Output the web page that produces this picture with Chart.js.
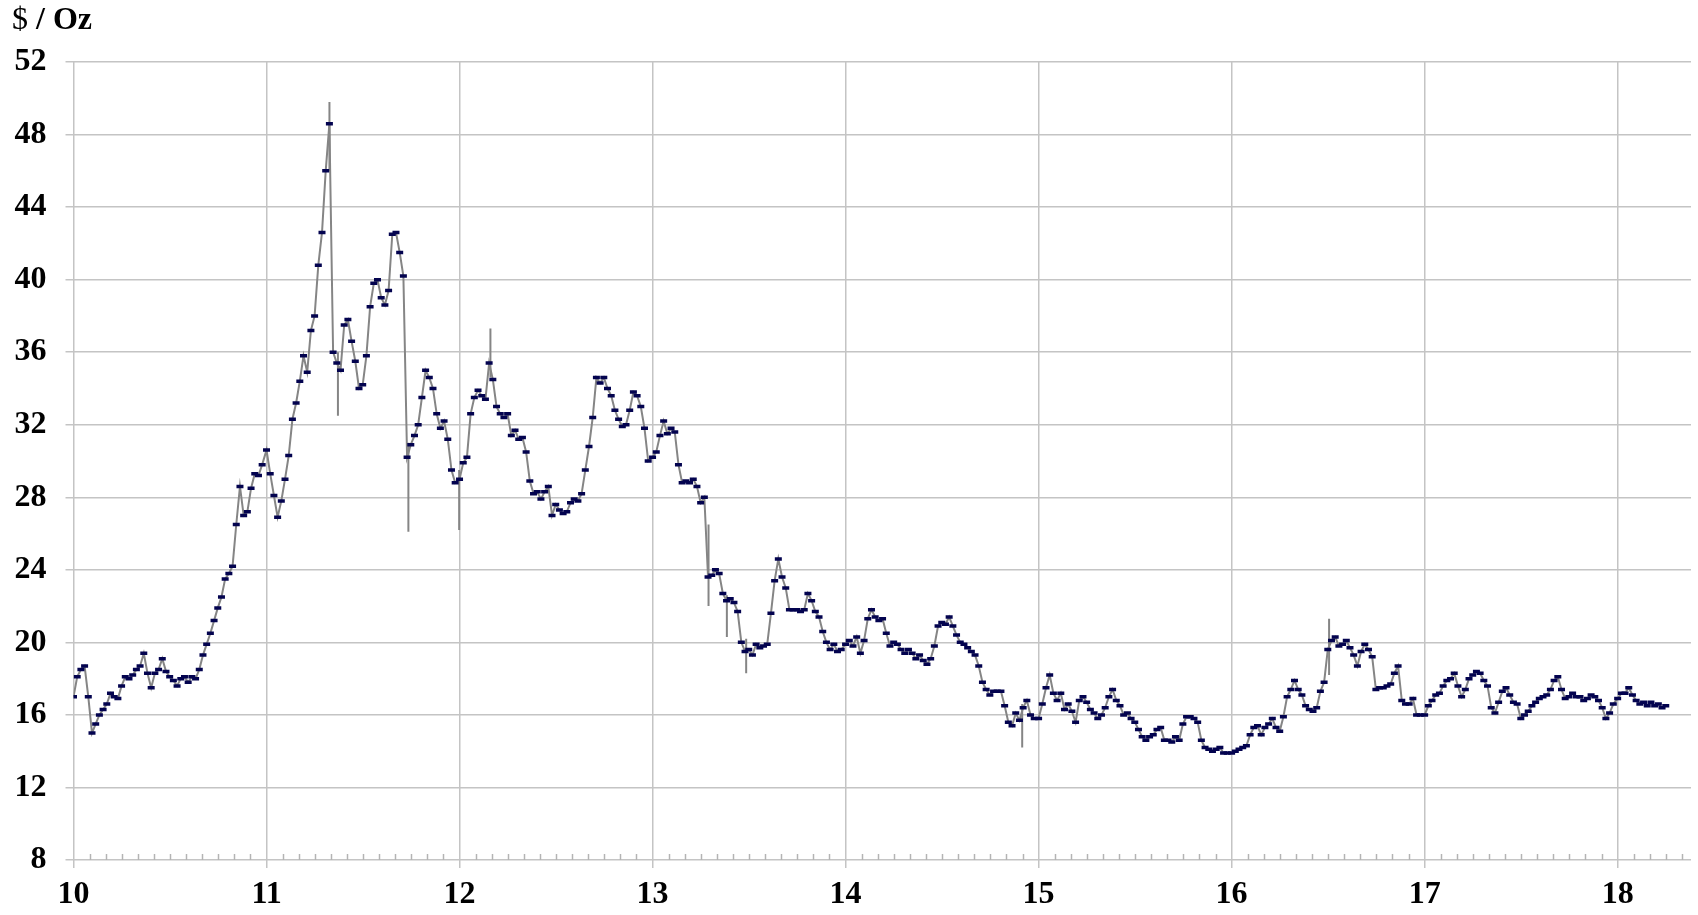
<!DOCTYPE html>
<html>
<head>
<meta charset="utf-8">
<title>Silver</title>
<script src="https://cdn.jsdelivr.net/npm/chart.js@4.4.1/dist/chart.umd.min.js"></script>
<style>
html, body { margin: 0; padding: 0; background: #fff; }
canvas { display: block; }
</style>
</head>
<body>
<canvas id="myChart" width="1698" height="915"></canvas>
<script>
// weekly closes, $ / oz, one array per year (year axis is 10 = 2010 ...)
var silver2010 = [17.0, 18.1, 18.5, 18.7, 17.0,
    15.0, 15.5, 16.0, 16.3,
    16.6, 17.2, 17.0, 16.9,
    17.6, 18.1, 18.0, 18.2, 18.5,
    18.7, 19.4, 18.3, 17.5,
    18.3, 18.5, 19.1, 18.4,
    18.1, 17.9, 17.6, 18.0, 18.1,
    17.8, 18.1, 18.0, 18.5,
    19.3, 19.9, 20.5, 21.2,
    21.9, 22.5, 23.5, 23.8, 24.2,
    26.5, 28.6, 27.0, 27.2,
    28.5, 29.3, 29.2, 29.8];
var silver2011 = [30.6, 29.3, 28.1, 26.9, 27.8,
    29.0, 30.3, 32.3, 33.2,
    34.4, 35.8, 34.9, 37.2,
    38.0, 40.8, 42.6, 46.0, 48.6,
    36.0, 35.4, 35.0, 37.5,
    37.8, 36.6, 35.5, 34.0,
    34.2, 35.8, 38.5, 39.8, 40.0,
    39.0, 38.6, 39.4, 42.5,
    42.6, 41.5, 40.2, 30.2,
    30.9, 31.4, 32.0, 33.5, 35.0,
    34.6, 34.0, 32.6, 31.8,
    32.2, 31.2, 29.5, 28.8];
var silver2012 = [29.0, 29.9, 30.2, 32.6, 33.5,
    33.9, 33.6, 33.4, 35.4,
    34.5, 33.0, 32.6, 32.4,
    32.6, 31.4, 31.7, 31.2, 31.3,
    30.5, 28.9, 28.2, 28.3,
    27.9, 28.3, 28.6, 27.0,
    27.6, 27.3, 27.1, 27.2, 27.7,
    27.9, 27.8, 28.2, 29.5,
    30.8, 32.4, 34.6, 34.3,
    34.6, 34.0, 33.6, 32.8, 32.3,
    31.9, 32.0, 32.8, 33.8,
    33.6, 33.0, 31.8, 30.0];
var silver2013 = [30.2, 30.5, 31.4, 32.2, 31.5,
    31.8, 31.6, 29.8, 28.8,
    28.9, 28.8, 29.0, 28.6,
    27.7, 28.0, 23.6, 23.7, 24.0,
    23.8, 22.7, 22.3, 22.4,
    22.2, 21.7, 20.0, 19.5,
    19.6, 19.3, 19.9, 19.7, 19.8,
    19.9, 21.6, 23.4, 24.6,
    23.6, 23.0, 21.8, 21.8,
    21.8, 21.7, 21.8, 22.7, 22.3,
    21.7, 21.4, 20.6, 20.0,
    19.6, 19.9, 19.5, 19.6];
var silver2014 = [19.9, 20.1, 19.8, 20.3, 19.4,
    20.1, 21.3, 21.8, 21.4,
    21.2, 21.3, 20.5, 19.8,
    20.0, 19.9, 19.6, 19.4, 19.6,
    19.4, 19.1, 19.3, 19.0,
    18.8, 19.1, 19.8, 20.9,
    21.1, 21.0, 21.4, 20.9, 20.4,
    20.0, 19.9, 19.7, 19.5,
    19.3, 18.7, 17.8, 17.4,
    17.1, 17.3, 17.3, 17.3, 16.5,
    15.6, 15.4, 16.1, 15.7,
    16.4, 16.8, 16.0, 15.8];
var silver2015 = [15.8, 16.6, 17.5, 18.2, 17.2,
    16.8, 17.2, 16.3, 16.6,
    16.2, 15.6, 16.8, 17.0,
    16.7, 16.3, 16.1, 15.8, 16.0,
    16.4, 17.0, 17.4, 16.8,
    16.5, 16.0, 16.1, 15.8,
    15.6, 15.2, 14.8, 14.6, 14.8,
    14.9, 15.2, 15.3, 14.6,
    14.6, 14.5, 14.8, 14.6,
    15.5, 15.9, 15.9, 15.8, 15.6,
    14.6, 14.2, 14.1, 14.0,
    14.1, 14.2, 13.9, 13.9];
var silver2016 = [13.9, 14.0, 14.1, 14.2, 14.3,
    14.9, 15.3, 15.4, 14.9,
    15.3, 15.5, 15.8, 15.3,
    15.1, 15.9, 17.0, 17.4, 17.9,
    17.4, 17.1, 16.5, 16.3,
    16.2, 16.4, 17.3, 17.8,
    19.6, 20.1, 20.3, 19.8, 19.9,
    20.1, 19.7, 19.3, 18.7,
    19.5, 19.9, 19.6, 19.2,
    17.4, 17.5, 17.5, 17.6, 17.7,
    18.3, 18.7, 16.8, 16.6,
    16.6, 16.9, 16.0, 16.0];
var silver2017 = [16.0, 16.5, 16.8, 17.1, 17.2,
    17.6, 17.9, 18.0, 18.3,
    17.6, 17.0, 17.4, 18.0,
    18.2, 18.4, 18.3, 17.9, 17.6,
    16.4, 16.1, 16.7, 17.3,
    17.5, 17.1, 16.7, 16.6,
    15.8, 16.0, 16.2, 16.5, 16.7,
    16.9, 17.0, 17.1, 17.4,
    17.9, 18.1, 17.4, 16.9,
    17.0, 17.2, 17.0, 17.0, 16.8,
    16.9, 17.1, 17.0, 16.8,
    16.4, 15.8, 16.1, 16.6];
var silver2018 = [16.9, 17.2, 17.2, 17.5, 17.1,
    16.8, 16.6, 16.7, 16.5,
    16.7, 16.5, 16.6, 16.4, 16.5];

// single-day extremes that reach well past the weekly closes
var spikeYears = [11.326, 11.37, 11.735, 11.998, 12.16, 13.29, 13.385, 13.485, 14.915, 16.505];
var spikeLows  = [46.0, 32.5, 26.1, 26.2, 34.6, 22.0, 20.3, 18.3, 14.2, 18.2];
var spikeHighs = [49.8, 36.0, 31.0, 29.5, 37.3, 26.5, 22.6, 20.2, 16.6, 21.3];

var yearTicks = [10, 11, 12, 13, 14, 15, 16, 17, 18];

var years = [
    [10, silver2010], [11, silver2011], [12, silver2012], [13, silver2013], [14, silver2014],
    [15, silver2015], [16, silver2016], [17, silver2017], [18, silver2018]
];

var closes = [];
years.forEach(function (y) {
    y[1].forEach(function (v, i) {
        closes.push({ x: y[0] + i * 7 / 365.25, y: v });
    });
});

var spikes = [];
spikeYears.forEach(function (x, i) {
    spikes.push({ x: x, y: spikeLows[i] });
    spikes.push({ x: x, y: spikeHighs[i] });
    spikes.push({ x: x, y: null });
});

var GRID = '#c4c4c4';
var FONT = '"Liberation Serif", "Times New Roman", serif';

// month ticks along the bottom + the units caption
var extras = {
    id: 'extras',
    beforeDatasetsDraw: function (chart) {
        var ctx = chart.ctx, xs = chart.scales.x;
        var y0 = chart.scales.y.getPixelForValue(8);
        ctx.save();
        ctx.strokeStyle = '#b4b4b4';
        ctx.lineWidth = 1.5;
        for (var m = 1; m < 12 * 9; m++) {
            if (m % 12 === 0) continue;
            var v = 10 + m / 12;
            if (v > xs.max) break;
            var px = Math.round(xs.getPixelForValue(v)) + 0.5;
            ctx.beginPath();
            ctx.moveTo(px, y0);
            ctx.lineTo(px, y0 - 6);
            ctx.stroke();
        }
        ctx.restore();
    },
    afterDraw: function (chart) {
        var ctx = chart.ctx;
        ctx.save();
        ctx.fillStyle = '#000';
        ctx.textBaseline = 'alphabetic';
        ctx.font = '32px ' + FONT;
        ctx.fillText('$', 12, 29);
        var w = ctx.measureText('$ ').width;
        ctx.font = 'bold 32px ' + FONT;
        ctx.fillText('/ Oz', 12 + w, 29);
        ctx.restore();
    }
};

var ctx = document.getElementById('myChart').getContext('2d');
var chart = new Chart(ctx, {
    type: 'line',
    data: {
        datasets: [{
            label: 'close',
            data: closes,
            order: 0,
            borderColor: '#858585',
            borderWidth: 2,
            tension: 0,
            pointStyle: 'line',
            pointRadius: 3.5,
            pointHoverRadius: 3.5,
            pointBorderWidth: 3.5,
            pointBorderColor: '#03034f',
            pointBackgroundColor: '#03034f'
        }, {
            label: 'range',
            data: spikes,
            order: 1,
            borderColor: '#858585',
            borderWidth: 2,
            pointRadius: 0,
            spanGaps: false
        }]
    },
    options: {
        responsive: false,
        animation: false,
        events: [],
        layout: { padding: { top: 62, right: 3, left: 0, bottom: 0 } },
        plugins: { legend: { display: false }, tooltip: { enabled: false } },
        scales: {
            x: {
                type: 'linear',
                min: 10,
                max: 18.38,
                afterBuildTicks: function (s) {
                    s.ticks = yearTicks.map(function (v) { return { value: v }; });
                },
                afterFit: function (s) { s.height = 55; },
                ticks: {
                    autoSkip: false,
                    maxRotation: 0,
                    padding: 8,
                    color: '#000',
                    font: { family: FONT, size: 32, weight: 'bold' }
                },
                grid: { color: GRID, lineWidth: 1.5, tickLength: 8, tickColor: GRID },
                border: { display: false }
            },
            y: {
                min: 8,
                max: 52,
                afterFit: function (s) { s.width = 73.5; },
                ticks: {
                    stepSize: 4,
                    padding: 19,
                    color: '#000',
                    font: { family: FONT, size: 32, weight: 'bold' }
                },
                grid: { color: GRID, lineWidth: 1.5, tickLength: 8, tickColor: GRID },
                border: { display: false }
            }
        }
    },
    plugins: [extras]
});
</script>
</body>
</html>
